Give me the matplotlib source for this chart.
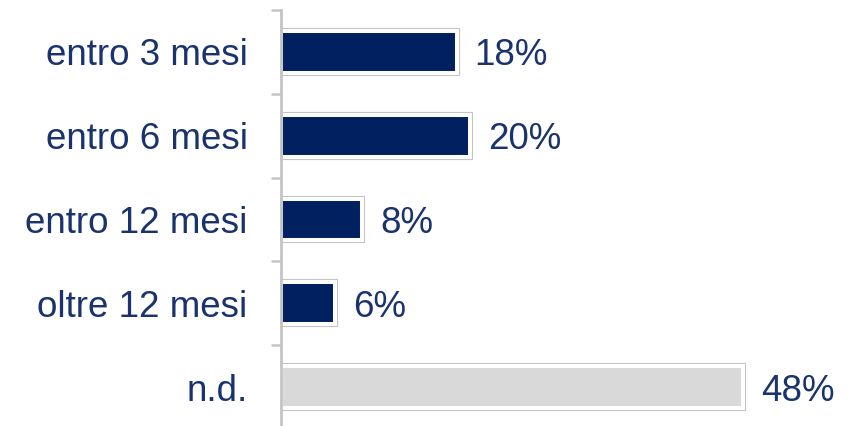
import matplotlib.pyplot as plt
import matplotlib.patheffects as pe

categorie = ['entro 3 mesi', 'entro 6 mesi', 'entro 12 mesi', 'oltre 12 mesi', 'n.d.']
valori = [18.2, 19.6, 8.4, 5.6, 47.9]
etichette = ['18%', '20%', '8%', '6%', '48%']
colori = ['#002060', '#002060', '#002060', '#002060', '#d9d9d9']

plt.rcParams['font.family'] = ['Liberation Sans', 'DejaVu Sans']
testo = '#1a336e'
grigio = '#c4c4c4'

fig = plt.figure(figsize=(8.56, 4.26), dpi=100)
ax = fig.add_axes([281 / 856, -3 / 426, 575 / 856, 419 / 426])

y = list(range(len(categorie)))
bars = ax.barh(y, valori, height=0.5, color=colori,
               edgecolor='white', linewidth=2.9, zorder=2)
for b in bars:
    b.set_path_effects([pe.Stroke(linewidth=4.4, foreground=grigio), pe.Normal()])

for yi, v, t in zip(y, valori, etichette):
    ax.annotate(t, (v, yi), xytext=(13, 0), textcoords='offset points',
                va='center_baseline', ha='left', fontsize=26.5, color=testo)

ax.set_xlim(0, 59.6)
ax.set_ylim(4.5, -0.5)
ax.set_yticks(y)
ax.set_yticklabels(categorie, fontsize=26.5, color=testo, va='center_baseline')
ax.set_yticks([i - 0.5 for i in range(len(categorie) + 1)], minor=True)
ax.tick_params(axis='y', which='major', length=0, pad=24)
ax.tick_params(axis='y', which='minor', length=7, width=1.8, color=grigio)
ax.set_xticks([])
for s in ['top', 'right', 'bottom']:
    ax.spines[s].set_visible(False)
ax.spines['left'].set_color(grigio)
ax.spines['left'].set_linewidth(2)
ax.spines['left'].set_zorder(3)

fig.savefig('out.png', dpi=100)
